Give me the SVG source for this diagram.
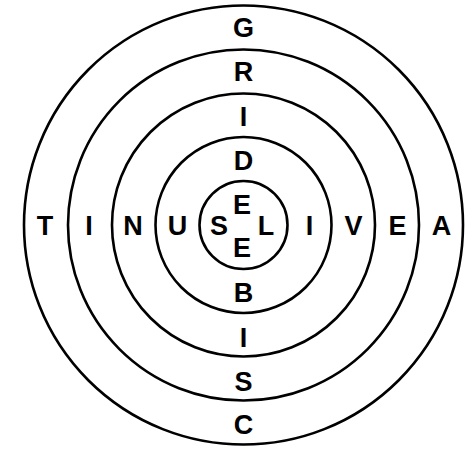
<svg xmlns="http://www.w3.org/2000/svg" width="476" height="449" viewBox="0 0 476 449">
<style>
.ring{fill:none;stroke:#000;stroke-width:2.6}
.t{font-family:"Liberation Sans",Arial,sans-serif;font-weight:bold;font-size:27px;fill:#000;text-anchor:middle}
</style>
<rect width="476" height="449" fill="#fff"/>
<g id="rings">
<circle id="ring5" class="ring" cx="243.5" cy="225" r="219.5"/>
<circle id="ring4" class="ring" cx="243.5" cy="225" r="175.5"/>
<circle id="ring3" class="ring" cx="243.5" cy="225" r="131.5"/>
<circle id="ring2" class="ring" cx="243.5" cy="225" r="88"/>
<circle id="ring1" class="ring" cx="243.5" cy="225" r="44"/>
</g>
<g id="vertical">
<text class="t" x="243.5" y="36.5">G</text>
<text class="t" x="243.5" y="81">R</text>
<text class="t" x="243.5" y="126">I</text>
<text class="t" x="243.5" y="170">D</text>
<text class="t" x="242" y="214">E</text>
<text class="t" x="242" y="257">E</text>
<text class="t" x="243.5" y="302">B</text>
<text class="t" x="243.5" y="347">I</text>
<text class="t" x="243.5" y="390.5">S</text>
<text class="t" x="243.5" y="433.5">C</text>
</g>
<g id="horizontal">
<text class="t" x="45" y="235">T</text>
<text class="t" x="89" y="235">I</text>
<text class="t" x="133" y="235">N</text>
<text class="t" x="177.5" y="235">U</text>
<text class="t" x="219" y="235">S</text>
<text class="t" x="266" y="235">L</text>
<text class="t" x="309.5" y="235">I</text>
<text class="t" x="353.5" y="235">V</text>
<text class="t" x="397.5" y="235">E</text>
<text class="t" x="441.5" y="235">A</text>
</g>
</svg>
